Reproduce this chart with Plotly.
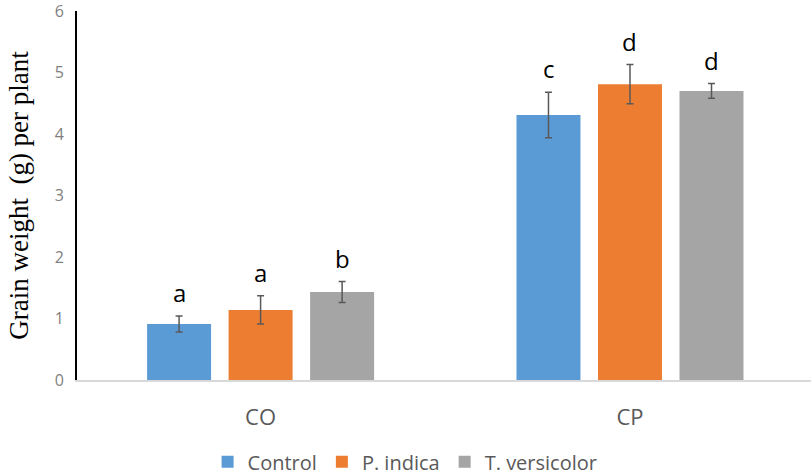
import plotly.graph_objects as go

# Soil treatments on the x axis and inoculation series
categories = ["CO", "CP"]
series_names = ["Control", "P. indica", "T. versicolor"]
series_colors = ["#5B9BD5", "#ED7D31", "#A5A5A5"]

# Mean grain weight (g) per plant and standard error for each series
control_mean = [0.91, 4.31]
control_err = [0.13, 0.37]
indica_mean = [1.14, 4.81]
indica_err = [0.23, 0.32]
versicolor_mean = [1.43, 4.70]
versicolor_err = [0.17, 0.12]

# Significance letters
control_letters = ["a", "c"]
indica_letters = ["a", "d"]
versicolor_letters = ["b", "d"]

# Y axis ticks
y_ticks = [0, 1, 2, 3, 4, 5, 6]

means = [control_mean, indica_mean, versicolor_mean]
errs = [control_err, indica_err, versicolor_err]
letters = [control_letters, indica_letters, versicolor_letters]

fig = go.Figure()
for name, color, m, e in zip(series_names, series_colors, means, errs):
    fig.add_trace(go.Bar(
        x=categories, y=m, name=name,
        marker=dict(color=color, line=dict(width=0)),
        error_y=dict(type="data", array=e, visible=True,
                     color="#595959", thickness=1.5, width=3.5),
    ))

# Letters sit just above each error bar
offset_group = [-1, 0, 1]
slot = 0.2205
for k, (m, e, lab) in enumerate(zip(means, errs, letters)):
    for i, cat in enumerate(categories):
        fig.add_annotation(
            x=i + offset_group[k] * slot, y=m[i] + e[i],
            xref="x", yref="y", text=lab[i], showarrow=False,
            yanchor="bottom", yshift=5,
            font=dict(family="Open Sans, sans-serif", size=24, color="#000000"),
        )

fig.update_layout(
    width=811, height=476,
    margin=dict(l=77, r=0, t=11, b=96, autoexpand=False),
    plot_bgcolor="white", paper_bgcolor="white",
    barmode="group", bargap=0.338, bargroupgap=0.215,
    showlegend=True,
    legend=dict(orientation="h", x=0.447, xanchor="center",
                yref="container", y=0.03, yanchor="middle",
                font=dict(family="Open Sans, sans-serif", size=20, color="#595959"),
                traceorder="normal", itemwidth=30),
    xaxis=dict(
        type="category", range=[-0.497, 1.49],
        showline=True, linecolor="#D9D9D9", linewidth=1.5,
        showgrid=False, ticks="",
        ticklabelstandoff=17,
        tickfont=dict(family="Open Sans, sans-serif", size=22, color="#595959"),
    ),
    yaxis=dict(
        range=[0, 6], tickmode="array", tickvals=y_ticks,
        ticktext=[str(v) for v in y_ticks], ticklabeloverflow="allow",
        showline=True, linecolor="#000000", linewidth=2,
        showgrid=False, zeroline=False, ticks="",
        ticklabelstandoff=8,
        tickfont=dict(family="Open Sans, sans-serif", size=16, color="#7F7F7F"),
        title=dict(text="Grain weight  (g) per plant", standoff=18,
                   font=dict(family="Liberation Serif, Times New Roman, serif",
                             size=27, color="#000000")),
    ),
)

fig.write_html("out.html")
